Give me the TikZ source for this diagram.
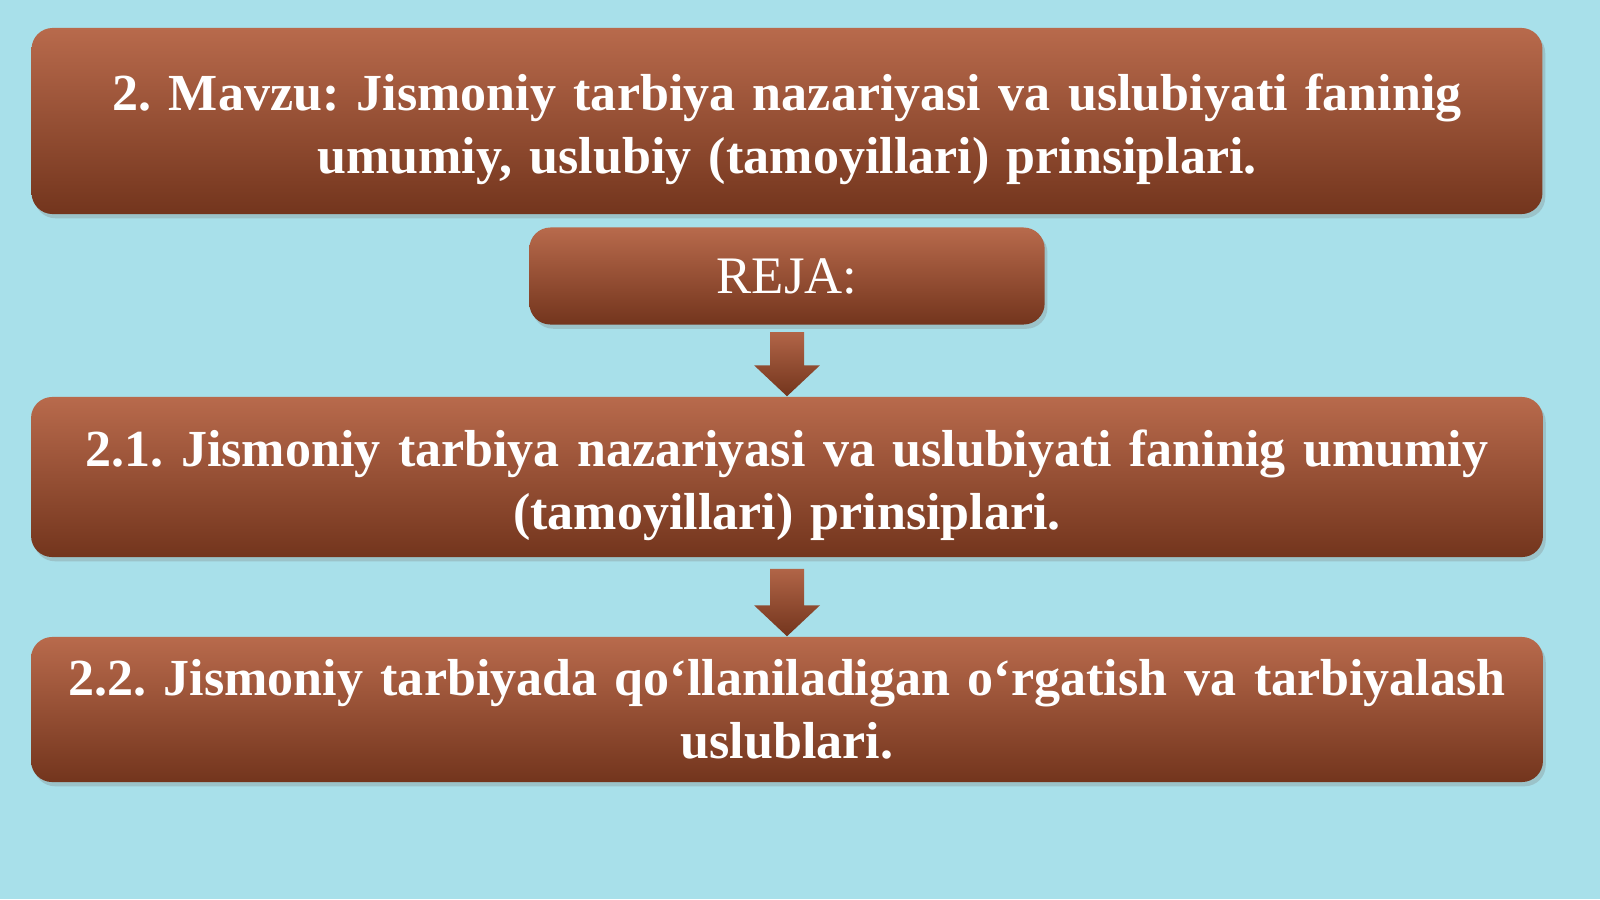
\documentclass[tikz,border=0pt]{standalone}
\usepackage{fontspec}
\setmainfont{Liberation Serif}
\frenchspacing
\usetikzlibrary{calc,shadows}

\definecolor{watercyan}{RGB}{168,224,234}
\definecolor{brickTop}{RGB}{184,106,76}
\definecolor{brickBot}{RGB}{115,53,29}

\tikzset{
	planbox/.style={rounded corners=6pt, top color=brickTop, bottom color=brickBot,
		draw=none, text=white, align=center, inner sep=0pt,
		drop shadow={opacity=0.3, shadow xshift=0.8pt, shadow yshift=-1.2pt}},
	planfont/.style={font=\fontsize{14.8}{17.9}\selectfont\bfseries},
	downarrow/.style={top color=brickTop!90!brickBot, bottom color=brickBot, draw=none}
}

\begin{document}
\begin{tikzpicture}[x=0.01cm, y=-0.01cm]
		%background
		\useasboundingbox (0,0) rectangle (1600,899);
		\fill[watercyan] (0,0) rectangle (1600,899);
		
		%boxes
		\node[planbox, planfont, minimum width=15.1cm, minimum height=1.86cm, text width=14.9cm] (mavzu) at (787,121)
			{\rule{0pt}{0.54cm}2. Mavzu: Jismoniy tarbiya nazariyasi va uslubiyati faninig\\umumiy, uslubiy (tamoyillari) prinsiplari.};
		\node[planbox, minimum width=5.15cm, minimum height=0.97cm, font=\fontsize{15}{18}\selectfont] (reja) at (787,276)
			{REJA:};
		\node[planbox, planfont, minimum width=15.11cm, minimum height=1.6cm, text width=14.9cm] (reja1) at (787,477)
			{\rule{0pt}{0.54cm}2.1. Jismoniy tarbiya nazariyasi va uslubiyati faninig umumiy\\(tamoyillari) prinsiplari.};
		\node[planbox, planfont, minimum width=15.11cm, minimum height=1.45cm, text width=14.9cm] (reja2) at (787,709.5)
			{2.2. Jismoniy tarbiyada qo‘llaniladigan o‘rgatish va tarbiyalash\\uslublari.};
		
		%arrows
		\foreach \from/\to/\gap in {reja/reja1/7, reja1/reja2/11}{
			\shade[downarrow] ($(\from.south)+(-17,\gap)$) -- ($(\from.south)+(17,\gap)$)
				-- ($(\to.north)+(17,-31)$) -- ($(\to.north)+(33,-31)$) -- (\to.north)
				-- ($(\to.north)+(-33,-31)$) -- ($(\to.north)+(-17,-31)$) -- cycle;
		}
\end{tikzpicture}
\end{document}
